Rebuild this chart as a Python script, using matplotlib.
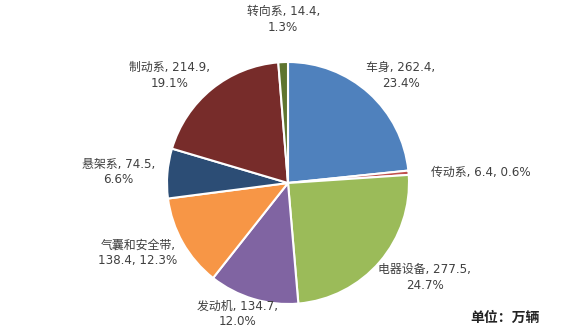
import matplotlib
matplotlib.use('Agg')
import matplotlib.pyplot as plt

plt.rcParams['font.family'] = ['DejaVu Sans', 'Noto Sans CJK SC']

# data (万辆, share)
parts = ['车身', '传动系', '电器设备', '发动机', '气囊和安全带', '悬架系', '制动系', '转向系']
values = [262.4, 6.4, 277.5, 134.7, 138.4, 74.5, 214.9, 14.4]
shares = ['23.4%', '0.6%', '24.7%', '12.0%', '12.3%', '6.6%', '19.1%', '1.3%']
colors = ['#4F81BD', '#C0504D', '#9BBB59', '#8064A2', '#F79646', '#2C4D75', '#772C2A', '#5F7530']

# label layout (text templates and positions in pie radius units)
label_fmt = ['{p}, {v},\n{s}', '{p}, {v}, {s}', '{p}, {v},\n{s}', '{p}, {v},\n{s}',
             '{p},\n{v}, {s}', '{p}, {v},\n{s}', '{p}, {v},\n{s}', '{p}, {v},\n{s}']
label_pos = [(0.93, 0.89), (1.59, 0.09), (1.13, -0.78), (-0.42, -1.08),
             (-1.24, -0.58), (-1.40, 0.09), (-0.98, 0.89), (-0.04, 1.35)]

fig = plt.figure(figsize=(5.76, 3.36), dpi=100)
r = 121
ax = fig.add_axes([(288 - r) / 576, (153 - r) / 336, 2 * r / 576, 2 * r / 336])
ax.pie(values, colors=colors, startangle=90, counterclock=False,
       wedgeprops={'edgecolor': 'white', 'linewidth': 1.5})
ax.set_xlim(-1, 1)
ax.set_ylim(-1, 1)
ax.set_clip_on(False)

for i in range(len(parts)):
    txt = label_fmt[i].format(p=parts[i], v=values[i], s=shares[i])
    ax.text(label_pos[i][0], label_pos[i][1], txt, ha='center', va='center',
            fontsize=8.6, color='#404040', linespacing=1.25, clip_on=False)

fig.text(505 / 576, 1 - 318 / 336, '单位：万辆', ha='center', va='center',
         fontsize=10, fontweight='bold', color='#222222',
         family=['Noto Sans CJK SC', 'DejaVu Sans'])

fig.savefig('out.png', dpi=100)
